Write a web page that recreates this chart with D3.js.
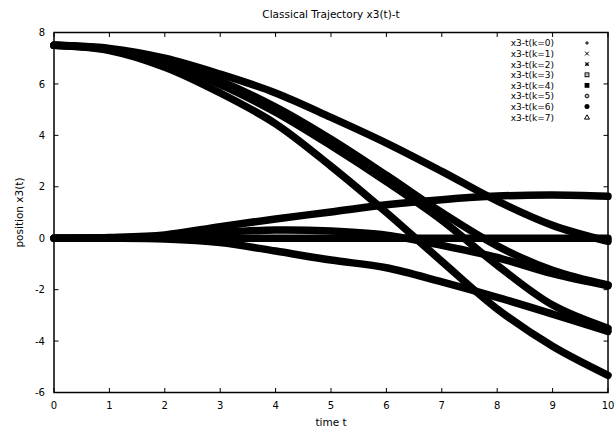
<!DOCTYPE html>
<html>
<head>
<meta charset="utf-8">
<script src="https://cdn.jsdelivr.net/npm/d3@7"></script>
<style>
  html, body { margin: 0; padding: 0; background: #fff; }
  svg { display: block; }
  text { font-family: "DejaVu Sans", "Liberation Sans", Arial, sans-serif; fill: #000; }
</style>
</head>
<body>
<svg id="chart" width="615" height="432"></svg>
<script>
// ---- data ----
const times = [0, 1, 2, 3, 4, 5, 6, 7, 8, 9, 10];
const seriesNames = ["x3-t(k=0)", "x3-t(k=1)", "x3-t(k=2)", "x3-t(k=3)", "x3-t(k=4)", "x3-t(k=5)", "x3-t(k=6)", "x3-t(k=7)"];
const k0 = [7.5, 7.38, 7.0, 6.38, 5.65, 4.7, 3.7, 2.6, 1.45, 0.5, -0.12];
const k1 = [0, 0.03, 0.13, 0.45, 0.75, 1.02, 1.3, 1.5, 1.64, 1.68, 1.63];
const k2 = [7.5, 7.35, 6.88, 6.12, 5.1, 3.85, 2.45, 1.0, -0.3, -1.25, -1.82];
const k3 = [0, 0.01, 0.07, 0.22, 0.32, 0.28, 0.12, -0.28, -0.75, -1.38, -1.85];
const k4 = [7.5, 7.33, 6.8, 5.98, 4.9, 3.6, 2.2, 0.7, -1.05, -2.6, -3.5];
const k5 = [0, 0, 0, 0, 0, 0, 0, 0, 0, 0, 0];
const k6 = [7.5, 7.3, 6.65, 5.65, 4.45, 2.8, 1.0, -0.9, -2.75, -4.2, -5.33];
const k7 = [0, 0, -0.03, -0.17, -0.5, -0.85, -1.15, -1.7, -2.3, -2.95, -3.62];
const seriesValues = [k0, k1, k2, k3, k4, k5, k6, k7];
const xTicks = [0, 1, 2, 3, 4, 5, 6, 7, 8, 9, 10];
const yTicks = [-6, -4, -2, 0, 2, 4, 6, 8];
const symbols = ["plus", "cross", "star", "squareDot", "squareFill", "circleDot", "circleFill", "triangle"];

// ---- layout ----
const svg = d3.select("#chart");
const pL = 54, pR = 608, pT = 32.5, pB = 392.5;
const x = d3.scaleLinear().domain([0, 10]).range([pL, pR]);
const y = d3.scaleLinear().domain([-6, 8]).range([pB, pT]);

// curves
const line = d3.line()
  .x((d, i) => x(times[i]))
  .y(d => y(d))
  .curve(d3.curveCatmullRom.alpha(0.5));

svg.append("g").selectAll("path")
  .data(seriesValues)
  .join("path")
  .attr("d", d => line(d))
  .attr("fill", "none")
  .attr("stroke", "#000")
  .attr("stroke-width", 7.5)
  .attr("stroke-linecap", "round")
  .attr("stroke-linejoin", "round");

// frame
svg.append("rect")
  .attr("x", pL).attr("y", pT)
  .attr("width", pR - pL).attr("height", pB - pT)
  .attr("fill", "none").attr("stroke", "#000").attr("stroke-width", 1.5);

const tl = 4.5;
// x ticks (bottom + mirrored top)
const xg = svg.append("g");
xTicks.forEach(t => {
  xg.append("line").attr("x1", x(t)).attr("x2", x(t)).attr("y1", pB).attr("y2", pB - tl).attr("stroke", "#000");
  xg.append("line").attr("x1", x(t)).attr("x2", x(t)).attr("y1", pT).attr("y2", pT + tl).attr("stroke", "#000");
  xg.append("text").attr("x", x(t)).attr("y", pB + 16).attr("text-anchor", "middle")
    .attr("font-size", 10).text(t);
});
// y ticks (left + mirrored right)
const yg = svg.append("g");
yTicks.forEach(v => {
  yg.append("line").attr("x1", pL).attr("x2", pL + tl).attr("y1", y(v)).attr("y2", y(v)).attr("stroke", "#000");
  yg.append("line").attr("x1", pR).attr("x2", pR - tl).attr("y1", y(v)).attr("y2", y(v)).attr("stroke", "#000");
  yg.append("text").attr("x", pL - 9).attr("y", y(v) + 3.7).attr("text-anchor", "end")
    .attr("font-size", 10).text(v);
});

// titles
svg.append("text").attr("x", (pL + pR) / 2).attr("y", 17.5).attr("text-anchor", "middle")
  .attr("font-size", 10.5).text("Classical Trajectory x3(t)-t");
svg.append("text").attr("x", (pL + pR) / 2).attr("y", 426).attr("text-anchor", "middle")
  .attr("font-size", 10.5).text("time t");
svg.append("text").attr("transform", `translate(23,${(pT + pB) / 2}) rotate(-90)`)
  .attr("text-anchor", "middle").attr("font-size", 10.5).text("position x3(t)");

// legend
const lg = svg.append("g");
const legX = 554, symX = 587, legY0 = 43, legDy = 10.6;
seriesNames.forEach((name, i) => {
  const cy = legY0 + i * legDy;
  lg.append("text").attr("x", legX).attr("y", cy + 3.3).attr("text-anchor", "end")
    .attr("font-size", 9).text(name);
  const s = symbols[i];
  const g = lg.append("g").attr("transform", `translate(${symX},${cy})`)
    .attr("stroke", "#000").attr("stroke-width", 1).attr("fill", "none");
  const r = 1.9;
  if (s === "plus") {
    g.append("path").attr("d", `M${-r},0H${r}M0,${-r}V${r}`);
  } else if (s === "cross") {
    g.append("path").attr("d", `M${-r},${-r}L${r},${r}M${-r},${r}L${r},${-r}`);
  } else if (s === "star") {
    g.append("path").attr("d", `M${-r},0H${r}M0,${-r}V${r}M${-r},${-r}L${r},${r}M${-r},${r}L${r},${-r}`);
  } else if (s === "squareDot") {
    g.append("rect").attr("x", -r).attr("y", -r).attr("width", 2 * r).attr("height", 2 * r);
    g.append("rect").attr("x", -0.5).attr("y", -0.5).attr("width", 1).attr("height", 1).attr("fill", "#000").attr("stroke", "none");
  } else if (s === "squareFill") {
    g.append("rect").attr("x", -r - 0.5).attr("y", -r - 0.5).attr("width", 2 * r + 1).attr("height", 2 * r + 1).attr("fill", "#000").attr("stroke", "none");
  } else if (s === "circleDot") {
    g.append("circle").attr("r", r);
    g.append("rect").attr("x", -0.5).attr("y", -0.5).attr("width", 1).attr("height", 1).attr("fill", "#000").attr("stroke", "none");
  } else if (s === "circleFill") {
    g.append("circle").attr("r", r + 0.6).attr("fill", "#000").attr("stroke", "none");
  } else if (s === "triangle") {
    g.append("path").attr("d", `M0,${-r - 0.5}L${r + 0.6},${r}L${-r - 0.6},${r}Z`);
  }
});
</script>
</body>
</html>
